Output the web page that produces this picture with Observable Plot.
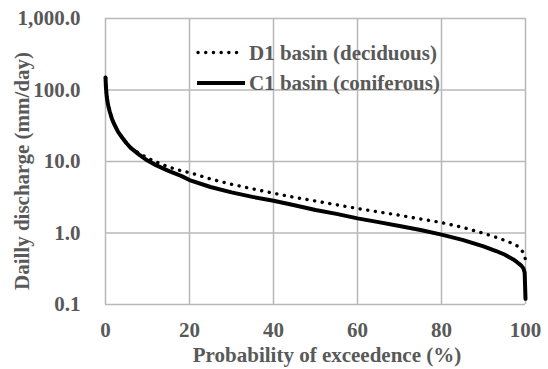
<!DOCTYPE html>
<html>
<head>
<meta charset="utf-8">
<script src="https://cdn.jsdelivr.net/npm/d3@7"></script>
<script src="https://cdn.jsdelivr.net/npm/@observablehq/plot@0.6"></script>
<style>
  html, body { margin: 0; padding: 0; background: #fff; }
  #chart { position: relative; width: 548px; height: 369px; }
</style>
</head>
<body>
<div id="chart"></div>
<script>
// Probability of exceedence (%)
const prob = [0, 0.1, 0.3, 0.6, 1, 1.5, 2, 3, 4, 5, 6, 8, 10, 12, 15, 18, 20, 25, 30, 35, 40, 45, 50, 55, 60, 65, 70, 75, 80, 85, 90, 93, 95, 97, 98, 99, 99.5, 99.8, 100];
// Daily discharge (mm/day)
const d1 = [150, 110, 80, 62, 50, 40, 34, 26, 21.5, 18, 15.5, 13, 11.2, 9.9, 8.4, 7.4, 7.0, 5.7, 4.8, 4.15, 3.6, 3.15, 2.8, 2.48, 2.2, 1.97, 1.77, 1.57, 1.4, 1.2, 0.99, 0.87, 0.79, 0.71, 0.66, 0.58, 0.53, 0.47, 0.42];
const c1 = [150, 110, 80, 62, 50, 40, 34, 26, 21.5, 18, 15.5, 12.5, 10.3, 8.9, 7.4, 6.3, 5.5, 4.4, 3.7, 3.2, 2.82, 2.45, 2.1, 1.85, 1.6, 1.42, 1.25, 1.1, 0.95, 0.8, 0.65, 0.56, 0.5, 0.43, 0.39, 0.35, 0.32, 0.28, 0.12];
const xTicks = [0, 20, 40, 60, 80, 100];
const yTicks = [0.1, 1, 10, 100, 1000];
const seriesNames = ["D1 basin (deciduous)", "C1 basin (coniferous)"];

const rowsD1 = prob.map((p, i) => ({p, q: d1[i]}));
const rowsC1 = prob.map((p, i) => ({p, q: c1[i]}));

const FONT = "'Liberation Serif', 'Times New Roman', serif";
const TXT = "#595959";
const GRID = "#b8b8b8";
const FS = "21px";

const chart = Plot.plot({
  width: 548,
  height: 369,
  marginLeft: 105,
  marginRight: 23,
  marginTop: 18,
  marginBottom: 65,
  style: {fontFamily: FONT, fontSize: FS, fontWeight: "bold", color: TXT, background: "#fff"},
  x: {domain: [0, 100], ticks: xTicks},
  y: {type: "log", domain: [0.1, 1000], ticks: yTicks},
  marks: [
    Plot.ruleX(xTicks, {x: d => d, stroke: GRID, strokeWidth: 1.5}),
    Plot.ruleY(yTicks, {y: d => d, stroke: GRID, strokeWidth: 1.5}),
    Plot.axisX({ticks: xTicks, tickSize: 0, tickPadding: 18, label: null, fill: TXT}),
    Plot.axisY({ticks: yTicks, tickSize: 0, tickPadding: 25, label: null, fill: TXT, tickFormat: d3.format(",.1f")}),
    Plot.line(rowsD1, {x: "p", y: "q", stroke: "#000", strokeWidth: 3.4, strokeDasharray: "0.1 7.6", strokeLinecap: "round"}),
    Plot.line(rowsC1, {x: "p", y: "q", stroke: "#000", strokeWidth: 4})
  ]
});
document.getElementById("chart").appendChild(chart);

// Axis titles and legend
const svg = d3.select(chart);
svg.append("text")
  .attr("x", 327).attr("y", 355).attr("dy", "0.35em")
  .attr("text-anchor", "middle").attr("fill", TXT)
  .style("font-family", FONT).style("font-size", FS).style("font-weight", "bold")
  .text("Probability of exceedence (%)");
svg.append("text")
  .attr("transform", "translate(22,171) rotate(-90)").attr("dy", "0.35em")
  .attr("text-anchor", "middle").attr("fill", TXT)
  .style("font-family", FONT).style("font-size", FS).style("font-weight", "bold")
  .text("Dailly discharge (mm/day)");

const leg = svg.append("g");
const legY = [52.5, 83];
leg.append("line").attr("x1", 198).attr("x2", 243).attr("y1", legY[0]).attr("y2", legY[0])
  .attr("stroke", "#000").attr("stroke-width", 3.4).attr("stroke-dasharray", "0.1 7.6").attr("stroke-linecap", "round");
leg.append("line").attr("x1", 197).attr("x2", 245).attr("y1", legY[1]).attr("y2", legY[1])
  .attr("stroke", "#000").attr("stroke-width", 4);
seriesNames.forEach((name, i) => {
  leg.append("text").attr("x", 249).attr("y", legY[i]).attr("dy", "0.35em")
    .attr("text-anchor", "start").attr("fill", TXT)
    .style("font-family", FONT).style("font-size", FS).style("font-weight", "bold")
    .text(name);
});
</script>
</body>
</html>
